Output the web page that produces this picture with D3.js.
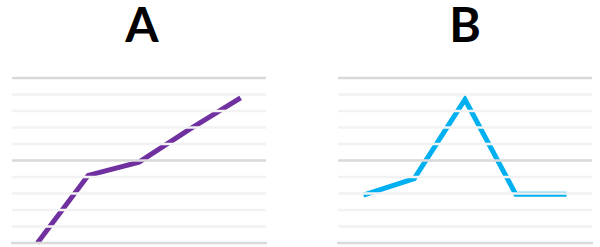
<!DOCTYPE html>
<html>
<head>
<meta charset="utf-8">
<script src="https://cdn.jsdelivr.net/npm/d3@7"></script>
<style>
  html, body { margin: 0; padding: 0; background: #fff; }
  #wrap { position: relative; width: 600px; height: 247px; }
  svg { display: block; position: absolute; left: 0; top: 0; }
  .title {
    position: absolute;
    width: 100px;
    height: 40px;
    line-height: 40px;
    text-align: center;
    font-family: Lato, 'Open Sans', sans-serif;
    font-weight: 700;
    font-size: 48px;
    color: #000;
    overflow: visible;
  }
</style>
</head>
<body>
<div id="wrap"><svg id="chart" width="600" height="247"></svg></div>
<script>
// ---- data ----
const categories = ["1", "2", "3", "4", "5"];
const panelTitles = ["A", "B"];
const seriesA = [0, 41, 49, 69, 88];
const seriesB = [29, 39, 87, 29.5, 29.5];
const gridTicks = [0, 10, 20, 30, 40, 50, 60, 70, 80, 90, 100];
const majorTicks = [0, 50, 100];

const svg = d3.select("#chart");
const wrap = d3.select("#wrap");
const y = d3.scaleLinear().domain([0, 100]).range([243, 78]);

const panels = [
  { title: panelTitles[0], values: seriesA, color: "#7030A0", x0: 12, x1: 266, tx: 142 },
  { title: panelTitles[1], values: seriesB, color: "#00B0F0", x0: 338, x1: 592, tx: 465 }
];

panels.forEach(p => {
  const g = svg.append("g");
  const x = d3.scalePoint().domain(categories).range([p.x0, p.x1]).padding(0.5);

  // title as HTML text; line box keeps baseline at y≈43
  wrap.append("div")
    .attr("class", "title")
    .style("left", (p.tx - 50) + "px")
    .style("top", "4.4px")
    .text(p.title);

  const line = d3.line()
    .x((d, i) => x(categories[i]))
    .y(d => y(d));

  g.append("path")
    .datum(p.values)
    .attr("d", line)
    .attr("fill", "none")
    .attr("stroke", p.color)
    .attr("stroke-width", 5)
    .attr("stroke-linejoin", "miter");

  // gridlines drawn above the line
  g.selectAll("line.grid")
    .data(gridTicks)
    .enter().append("line")
    .attr("class", "grid")
    .attr("x1", d => d === 0 ? p.x0 - 1 : p.x0)
    .attr("x2", d => d === 0 ? p.x1 + 1 : p.x1)
    .attr("y1", d => y(d))
    .attr("y2", d => y(d))
    .attr("stroke", d => majorTicks.includes(d) ? "#d9d9d9" : "#f2f2f2")
    .attr("stroke-width", 2.5);
});
</script>
</body>
</html>
